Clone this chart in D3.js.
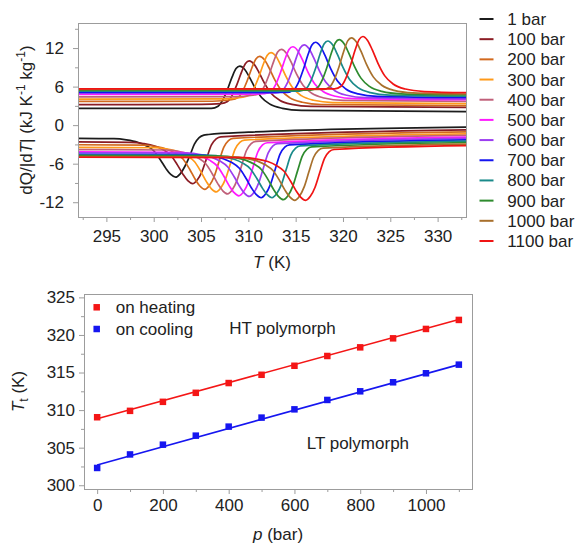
<!DOCTYPE html>
<html>
<head>
<meta charset="utf-8">
<script src="https://cdn.jsdelivr.net/npm/d3@7"></script>
<style>
  html, body { margin: 0; padding: 0; background: #fff; }
  svg { display: block; font-family: "Liberation Sans", Arial, Helvetica, sans-serif; }
</style>
</head>
<body>
<script>
// ---------- DSC traces, one per pressure ----------
const pressureLabels = ["1 bar", "100 bar", "200 bar", "300 bar", "400 bar", "500 bar",
                        "600 bar", "700 bar", "800 bar", "900 bar", "1000 bar", "1100 bar"];

// heating runs: [T (K), dQ/|dT| (kJ K^-1 kg^-1)]
const heatTraces = [
  [[292,2.6],[306.1,2.6],[306.8,2.93],[307.3,3.92],[307.8,5.57],[308.3,7.55],[308.7,8.8],[309.1,9.2],[309.6,8.71],[310.1,7.52],[310.7,5.84],[311.4,4.3],[312.3,3.25],[313.6,2.62],[315.6,2.3],[333,2.1]],
  [[292,3.2],[305.1,3.22],[307.1,3.35],[307.8,3.68],[308.3,4.68],[308.8,6.34],[309.3,8.34],[309.7,9.6],[310.1,10.0],[310.6,9.5],[311.1,8.27],[311.7,6.54],[312.4,4.96],[313.3,3.88],[314.6,3.23],[316.6,2.91],[333,2.75]],
  [[292,3.7],[306.2,3.72],[308.2,3.95],[308.9,4.29],[309.4,5.3],[309.9,6.99],[310.4,9.01],[310.8,10.3],[311.2,10.7],[311.7,10.17],[312.2,8.88],[312.8,7.05],[313.5,5.38],[314.4,4.24],[315.7,3.56],[317.7,3.21],[333,3.05]],
  [[292,4.05],[307.4,4.08],[309.4,4.35],[310.1,4.7],[310.6,5.74],[311.1,7.48],[311.6,9.56],[312.0,10.88],[312.4,11.3],[312.9,10.75],[313.4,9.4],[314.0,7.51],[314.7,5.77],[315.6,4.59],[316.9,3.87],[318.9,3.52],[333,3.35]],
  [[292,4.4],[308.5,4.43],[310.5,4.65],[311.2,5.01],[311.7,6.08],[312.2,7.87],[312.7,10.01],[313.1,11.37],[313.5,11.8],[314.0,11.24],[314.5,9.87],[315.1,7.94],[315.8,6.17],[316.7,4.96],[318.0,4.23],[320.0,3.87],[333,3.7]],
  [[292,4.8],[309.7,4.82],[311.7,4.9],[312.4,5.27],[312.9,6.36],[313.4,8.19],[313.9,10.38],[314.3,11.76],[314.7,12.2],[315.2,11.63],[315.7,10.23],[316.3,8.26],[317.0,6.46],[317.9,5.23],[319.2,4.49],[321.2,4.12],[333,3.95]],
  [[292,5.0],[312.9,5.0],[313.6,5.38],[314.1,6.5],[314.6,8.38],[315.1,10.63],[315.5,12.05],[315.9,12.5],[316.4,11.92],[316.9,10.5],[317.5,8.49],[318.2,6.66],[319.1,5.4],[320.4,4.65],[322.4,4.28],[333,4.1]],
  [[292,5.1],[314.1,5.1],[314.8,5.49],[315.3,6.66],[315.8,8.61],[316.3,10.95],[316.7,12.43],[317.1,12.9],[317.6,12.3],[318.1,10.85],[318.7,8.8],[319.4,6.92],[320.3,5.63],[321.6,4.86],[323.6,4.48],[333,4.3]],
  [[292,5.3],[315.4,5.3],[316.1,5.69],[316.6,6.86],[317.1,8.81],[317.6,11.15],[318.0,12.63],[318.4,13.1],[318.9,12.5],[319.4,11.05],[320.0,9.0],[320.7,7.12],[321.6,5.83],[322.9,5.06],[324.9,4.68],[333,4.5]],
  [[292,5.45],[316.6,5.45],[317.3,5.84],[317.8,7.02],[318.3,8.98],[318.8,11.34],[319.2,12.83],[319.6,13.3],[320.1,12.7],[320.6,11.25],[321.2,9.2],[321.9,7.32],[322.8,6.03],[324.1,5.26],[326.1,4.88],[333,4.7]],
  [[292,5.55],[317.9,5.55],[318.6,5.95],[319.1,7.16],[319.6,9.17],[320.1,11.59],[320.5,13.12],[320.9,13.6],[321.4,12.99],[321.9,11.51],[322.5,9.42],[323.2,7.51],[324.1,6.21],[325.4,5.42],[327.4,5.03],[333,4.85]],
  [[292,5.65],[319.1,5.65],[319.8,6.06],[320.3,7.28],[320.8,9.32],[321.3,11.76],[321.7,13.31],[322.1,13.8],[322.6,13.19],[323.1,11.71],[323.7,9.62],[324.4,7.71],[325.3,6.41],[326.6,5.62],[328.6,5.23],[333,5.05]]
];

// cooling runs: [T (K), -dQ/|dT| (kJ K^-1 kg^-1)]
const coolTraces = [
  [[292,-2.05],[295.8,-2.11],[297.1,-2.29],[298.3,-2.66],[299.2,-3.2],[300.0,-3.99],[300.7,-5.38],[301.3,-6.77],[301.8,-7.68],[302.3,-8.1],[302.8,-7.58],[303.3,-6.4],[303.8,-4.82],[304.3,-2.96],[304.8,-1.95],[305.3,-1.55],[305.8,-1.46],[310,-1.1],[333,-0.3]],
  [[292,-2.6],[297.6,-2.67],[298.9,-2.86],[300.1,-3.25],[301.0,-3.84],[301.8,-4.68],[302.5,-6.18],[303.1,-7.67],[303.6,-8.65],[304.1,-9.1],[304.6,-8.53],[305.1,-7.23],[305.6,-5.13],[306.1,-3.09],[306.6,-2.13],[307.1,-1.82],[333,-0.73]],
  [[292,-3.05],[298.9,-3.12],[300.2,-3.33],[301.4,-3.75],[302.3,-4.37],[303.1,-5.27],[303.8,-6.87],[304.4,-8.47],[304.9,-9.51],[305.4,-10.0],[305.9,-9.37],[306.4,-7.96],[306.9,-5.68],[307.4,-3.46],[307.9,-2.4],[308.4,-2.07],[333,-1.04]],
  [[292,-3.45],[300.1,-3.52],[301.4,-3.73],[302.6,-4.15],[303.5,-4.77],[304.3,-5.67],[305.0,-7.27],[305.6,-8.87],[306.1,-9.91],[306.6,-10.4],[307.1,-9.76],[307.6,-8.33],[308.1,-6.0],[308.6,-3.74],[309.1,-2.67],[309.6,-2.33],[333,-1.35]],
  [[292,-3.8],[301.3,-3.87],[302.6,-4.08],[303.8,-4.49],[304.7,-5.11],[305.5,-6.01],[306.2,-7.6],[306.8,-9.18],[307.3,-10.22],[307.8,-10.7],[308.3,-10.06],[308.8,-8.6],[309.3,-6.25],[309.8,-3.95],[310.3,-2.88],[310.8,-2.53],[333,-1.6]],
  [[292,-4.15],[302.5,-4.22],[303.8,-4.42],[305.0,-4.84],[305.9,-5.45],[306.7,-6.34],[307.4,-7.92],[308.0,-9.49],[308.5,-10.52],[309.0,-11.0],[309.5,-10.35],[310.0,-8.88],[310.5,-6.5],[311.0,-4.18],[311.5,-3.09],[312.0,-2.74],[333,-1.86]],
  [[292,-4.3],[303.6,-4.37],[304.9,-4.57],[306.1,-4.98],[307.0,-5.59],[307.8,-6.48],[308.5,-8.04],[309.1,-9.6],[309.6,-10.62],[310.1,-11.1],[310.6,-10.45],[311.1,-8.99],[311.6,-6.62],[312.1,-4.32],[312.6,-3.24],[313.1,-2.89],[333,-2.05]],
  [[292,-4.55],[304.85,-4.62],[306.15,-4.82],[307.35,-5.23],[308.25,-5.83],[309.05,-6.71],[309.75,-8.26],[310.35,-9.82],[310.85,-10.83],[311.35,-11.3],[311.85,-10.65],[312.35,-9.18],[312.85,-6.81],[313.35,-4.5],[313.85,-3.41],[314.35,-3.06],[333,-2.28]],
  [[292,-4.65],[306.0,-4.72],[307.3,-4.92],[308.5,-5.32],[309.4,-5.91],[310.2,-6.78],[310.9,-8.31],[311.5,-9.84],[312.0,-10.83],[312.5,-11.3],[313.0,-10.66],[313.5,-9.23],[314.0,-6.9],[314.5,-4.64],[315.0,-3.58],[315.5,-3.24],[333,-2.5]],
  [[292,-4.76],[307.2,-4.83],[308.5,-5.03],[309.7,-5.44],[310.6,-6.06],[311.4,-6.95],[312.1,-8.52],[312.7,-10.1],[313.2,-11.12],[313.7,-11.6],[314.2,-10.95],[314.7,-9.49],[315.2,-7.12],[315.7,-4.82],[316.2,-3.74],[316.7,-3.38],[333,-2.7]],
  [[292,-4.88],[308.4,-4.95],[309.7,-5.15],[310.9,-5.56],[311.8,-6.18],[312.6,-7.06],[313.3,-8.63],[313.9,-10.2],[314.4,-11.22],[314.9,-11.7],[315.4,-11.06],[315.9,-9.61],[316.4,-7.27],[316.9,-5.0],[317.4,-3.93],[317.9,-3.58],[333,-2.95]],
  [[292,-5.0],[309.55,-5.07],[310.85,-5.27],[312.05,-5.67],[312.95,-6.27],[313.75,-7.14],[314.45,-8.69],[315.05,-10.23],[315.55,-11.23],[316.05,-11.7],[316.55,-11.08],[317.05,-9.66],[317.55,-7.38],[318.05,-5.17],[318.55,-4.12],[319.05,-3.79],[333,-3.2]]
];

const dscTempTicks = [295, 300, 305, 310, 315, 320, 325, 330];
const dscTempMinor = [292.5, 297.5, 302.5, 307.5, 312.5, 317.5, 322.5, 327.5, 332.5];
const dscValueTicks = [-12, -6, 0, 6, 12];
const dscValueMinor = [-9, -3, 3, 9, 15];

// ---------- transition temperature vs pressure ----------
const pressures = [0, 100, 200, 300, 400, 500, 600, 700, 800, 900, 1000, 1100];
const ttHeating = [309.05, 309.9, 311.1, 312.3, 313.6, 314.7, 315.9, 317.2, 318.35, 319.55, 320.8, 322.0];
const ttCooling = [302.3, 304.1, 305.4, 306.6, 307.8, 309.0, 310.1, 311.35, 312.5, 313.7, 314.9, 316.05];
// linear fits, evaluated at the ends of the pressure range
const fitPressures = [0, 1100];
const fitHeating = [308.85, 322.05];
const fitCooling = [302.7, 316.05];

const pTicks = [0, 200, 400, 600, 800, 1000];
const pMinor = [100, 300, 500, 700, 900, 1100];
const ttTicks = [300, 305, 310, 315, 320, 325];
const ttMinor = [302.5, 307.5, 312.5, 317.5, 322.5];

// ---------- styling ----------
const traceColors = ["#1c1c1c", "#8b1c24", "#d2691e", "#ff9a1a", "#c0607a", "#ff1aff",
                     "#9b3df0", "#1414f0", "#1a8a8a", "#2e8b2e", "#a8702c", "#f01414"];
const FS = 17;
const frameColor = "#9c9c9c";
const textColor = "#222";
const heatColor = "#f41616";
const coolColor = "#1616f0";

const svg = d3.select("body").append("svg")
  .attr("width", 579).attr("height", 544);

function styleAxis(g) {
  g.select(".domain").remove();
  g.selectAll(".tick line").attr("stroke", frameColor).attr("stroke-width", 1);
  g.selectAll(".tick text").attr("fill", textColor)
    .style("font-size", FS + "px")
    .style("font-family", '"Liberation Sans", Arial, sans-serif');
}

function drawAxes(box, x, y, xt, xm, yt, ym, xPad, yPad) {
  svg.append("g").attr("transform", `translate(0,${box.b})`)
    .call(d3.axisBottom(x).tickValues(xt).tickSize(5).tickPadding(xPad).tickFormat(d => String(d)))
    .call(styleAxis);
  svg.append("g").attr("transform", `translate(0,${box.b})`)
    .call(d3.axisBottom(x).tickValues(xm).tickSize(3).tickFormat(""))
    .call(styleAxis);
  svg.append("g").attr("transform", `translate(${box.l},0)`)
    .call(d3.axisLeft(y).tickValues(yt).tickSize(5).tickPadding(yPad).tickFormat(d => String(d)))
    .call(styleAxis);
  svg.append("g").attr("transform", `translate(${box.l},0)`)
    .call(d3.axisLeft(y).tickValues(ym).tickSize(3).tickFormat(""))
    .call(styleAxis);
  svg.append("rect")
    .attr("x", box.l + 0.5).attr("y", box.t + 0.5)
    .attr("width", box.r - box.l).attr("height", box.b - box.t)
    .attr("fill", "none").attr("stroke", frameColor).attr("stroke-width", 1);
}

// ---------- upper panel: DSC traces ----------
const topBox = { l: 78, r: 466, t: 23, b: 217 };
const xT = d3.scaleLinear().domain([292, 333]).range([topBox.l, topBox.r]);
const yQ = d3.scaleLinear().domain([-14.3, 15.9]).range([topBox.b, topBox.t]);

svg.append("clipPath").attr("id", "dscClip").append("rect")
  .attr("x", topBox.l).attr("y", topBox.t)
  .attr("width", topBox.r - topBox.l).attr("height", topBox.b - topBox.t);

const traceLine = d3.line()
  .x(d => xT(d[0])).y(d => yQ(d[1]))
  .curve(d3.curveMonotoneX);

const traceLayer = svg.append("g").attr("clip-path", "url(#dscClip)");
pressureLabels.forEach((lab, i) => {
  traceLayer.append("path").datum(heatTraces[i])
    .attr("d", traceLine).attr("fill", "none")
    .attr("stroke", traceColors[i]).attr("stroke-width", 1.7);
  traceLayer.append("path").datum(coolTraces[i])
    .attr("d", traceLine).attr("fill", "none")
    .attr("stroke", traceColors[i]).attr("stroke-width", 1.7);
});

drawAxes(topBox, xT, yQ, dscTempTicks, dscTempMinor, dscValueTicks, dscValueMinor, 8, 9);

// axis titles
const yTitleTop = svg.append("text")
  .attr("transform", "translate(32,120) rotate(-90)")
  .attr("text-anchor", "middle").attr("fill", textColor).style("font-size", FS + "px");
yTitleTop.append("tspan").text("dQ/|d");
yTitleTop.append("tspan").attr("font-style", "italic").text("T");
yTitleTop.append("tspan").text("| (kJ K");
yTitleTop.append("tspan").attr("dy", -7).style("font-size", "12px").text("-1");
yTitleTop.append("tspan").attr("dy", 7).text(" kg");
yTitleTop.append("tspan").attr("dy", -7).style("font-size", "12px").text("-1");
yTitleTop.append("tspan").attr("dy", 7).text(")");

const xTitleTop = svg.append("text")
  .attr("x", (topBox.l + topBox.r) / 2).attr("y", 268)
  .attr("text-anchor", "middle").attr("fill", textColor).style("font-size", FS + "px");
xTitleTop.append("tspan").attr("font-style", "italic").text("T");
xTitleTop.append("tspan").text(" (K)");

// legend
const legend = svg.append("g");
pressureLabels.forEach((lab, i) => {
  const yy = 19 + i * 20.18;
  legend.append("line")
    .attr("x1", 479.5).attr("x2", 493.5).attr("y1", yy).attr("y2", yy)
    .attr("stroke", traceColors[i]).attr("stroke-width", 2);
  legend.append("text")
    .attr("x", 507.3).attr("y", yy + 6)
    .attr("fill", textColor).style("font-size", FS + "px").text(lab);
});

// ---------- lower panel: Tt vs p ----------
const botBox = { l: 84, r: 472, t: 294, b: 489 };
const xP = d3.scaleLinear().domain([-40, 1140]).range([botBox.l, botBox.r]);
const yTt = d3.scaleLinear().domain([299.5, 325.45]).range([botBox.b, botBox.t]);

drawAxes(botBox, xP, yTt, pTicks, pMinor, ttTicks, ttMinor, 5, 4);

const fitLine = d3.line().x(d => xP(d[0])).y(d => yTt(d[1]));
svg.append("path").datum(fitPressures.map((p, i) => [p, fitHeating[i]]))
  .attr("d", fitLine).attr("fill", "none").attr("stroke", heatColor).attr("stroke-width", 1.6);
svg.append("path").datum(fitPressures.map((p, i) => [p, fitCooling[i]]))
  .attr("d", fitLine).attr("fill", "none").attr("stroke", coolColor).attr("stroke-width", 1.6);

const mk = 6.5;
svg.append("g").selectAll("rect").data(pressures).join("rect")
  .attr("x", p => xP(p) - mk / 2).attr("y", (p, i) => yTt(ttHeating[i]) - mk / 2)
  .attr("width", mk).attr("height", mk).attr("fill", heatColor);
svg.append("g").selectAll("rect").data(pressures).join("rect")
  .attr("x", p => xP(p) - mk / 2).attr("y", (p, i) => yTt(ttCooling[i]) - mk / 2)
  .attr("width", mk).attr("height", mk).attr("fill", coolColor);

// legend and phase labels
[["on heating", heatColor, 307.3], ["on cooling", coolColor, 329]].forEach(([lab, c, yy]) => {
  svg.append("rect").attr("x", 96.7 - mk / 2).attr("y", yy - mk / 2)
    .attr("width", mk).attr("height", mk).attr("fill", c);
  svg.append("text").attr("x", 115.7).attr("y", yy + 5.8)
    .attr("fill", textColor).style("font-size", FS + "px").text(lab);
});
svg.append("text").attr("x", 229.3).attr("y", 333.5)
  .attr("fill", textColor).style("font-size", FS + "px").text("HT polymorph");
svg.append("text").attr("x", 306.7).attr("y", 449)
  .attr("fill", textColor).style("font-size", FS + "px").text("LT polymorph");

const yTitleBot = svg.append("text")
  .attr("transform", `translate(24,${(botBox.t + botBox.b) / 2}) rotate(-90)`)
  .attr("text-anchor", "middle").attr("fill", textColor).style("font-size", FS + "px");
yTitleBot.append("tspan").attr("font-style", "italic").text("T");
yTitleBot.append("tspan").attr("dy", 4).style("font-size", "12px").text("t");
yTitleBot.append("tspan").attr("dy", -4).text(" (K)");

const xTitleBot = svg.append("text")
  .attr("x", (botBox.l + botBox.r) / 2).attr("y", 540)
  .attr("text-anchor", "middle").attr("fill", textColor).style("font-size", FS + "px");
xTitleBot.append("tspan").attr("font-style", "italic").text("p");
xTitleBot.append("tspan").text(" (bar)");
</script>
</body>
</html>
